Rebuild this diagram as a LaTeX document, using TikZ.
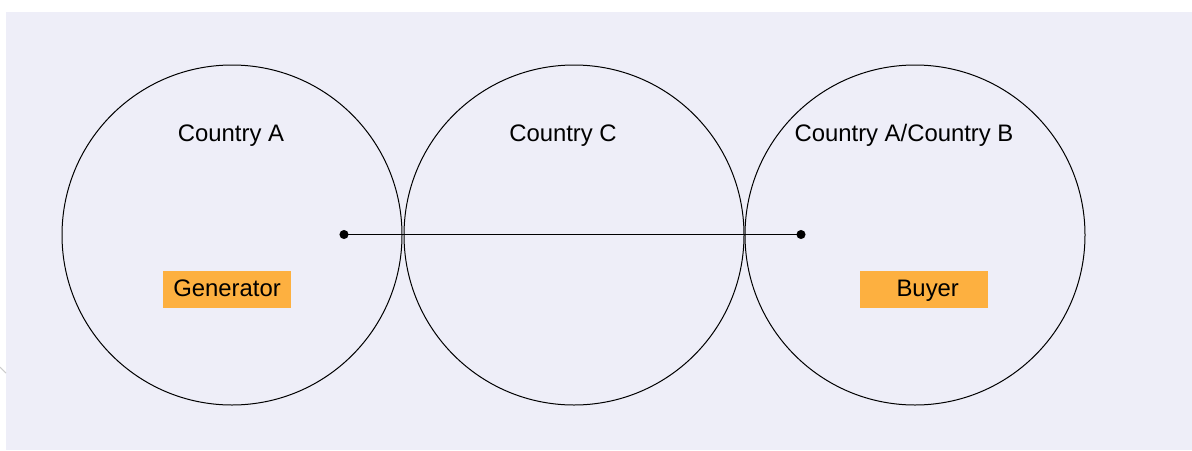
\documentclass[tikz,border=0pt]{standalone}
\usepackage{fontspec}
\setmainfont{Liberation Sans}
\definecolor{panelbg}{RGB}{238,238,248}
\definecolor{tagorange}{RGB}{253,176,64}
\begin{document}
\begin{tikzpicture}[x=0.75pt,y=-0.75pt,
  region/.style={circle,draw=black,line width=0.75pt,minimum size=255pt,inner sep=0pt},
  regionlabel/.style={anchor=base,font=\fontsize{17.9pt}{21pt}\selectfont},
  roletag/.style={fill=tagorange,minimum width=96pt,minimum height=28pt,inner sep=0pt,
    text height=12.9pt,text depth=3.6pt,
    font=\fontsize{17.9pt}{21pt}\selectfont},
  endpoint/.style={circle,fill=black,minimum size=6.8pt,inner sep=0pt},
  link/.style={line width=0.9pt}]
  \useasboundingbox (0,0) rectangle (1192,450);
  % background panel
  \fill[panelbg] (6,12) rectangle (1192,450);
  \draw[gray!40,line width=0.8pt] (0,367) -- (6,373);
  % three overlapping regions
  \node[region] (ca) at (232,235) {};
  \node[region] (cc) at (574,235) {};
  \node[region] (cb) at (915,235) {};
  % region titles
  \node[regionlabel] (la) at (231,141.7) {Country A};
  \node[regionlabel] (lc) at (563,141.7) {Country C};
  \node[regionlabel] (lb) at (904,141.7) {Country A/Country B};
  % parties
  \node[roletag] (gen) at (227,289.8) {Generator};
  \node[roletag] (buy) at (924,289.8) {\hspace*{5.6pt}Buyer};
  % contract link
  \node[endpoint] (p1) at (344,234.5) {};
  \node[endpoint] (p2) at (801,234.5) {};
  \draw[link] (p1.center) -- (p2.center);
\end{tikzpicture}
\end{document}
